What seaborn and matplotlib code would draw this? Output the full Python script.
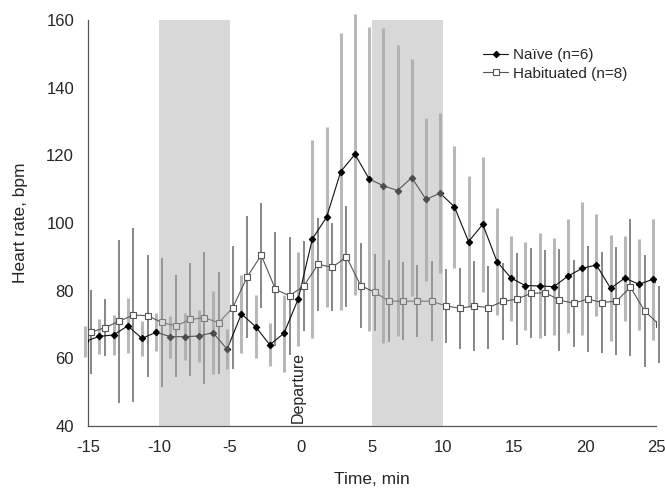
import matplotlib
matplotlib.use("Agg")
import matplotlib.pyplot as plt
import seaborn as sns
import pandas as pd

# heart rate, bpm (mean and error) per minute around departure
naive_time = [-15.2, -14.2, -13.2, -12.2, -11.2, -10.2, -9.2, -8.2, -7.2, -6.2,
              -5.2, -4.2, -3.2, -2.2, -1.2, -0.2, 0.8, 1.8, 2.8, 3.8,
              4.8, 5.8, 6.8, 7.8, 8.8, 9.8, 10.8, 11.8, 12.8, 13.8,
              14.8, 15.8, 16.8, 17.8, 18.8, 19.8, 20.8, 21.8, 22.8, 23.8,
              24.8, 25.8]
naive_hr = [65.0, 66.5, 66.9, 69.6, 65.9, 67.7, 66.4, 66.4, 66.6, 67.6,
            62.7, 73.1, 69.4, 64.0, 67.4, 77.5, 95.3, 101.7, 115.2, 120.3,
            113.0, 111.0, 109.6, 113.4, 107.0, 108.8, 104.8, 94.5, 99.6, 88.6,
            83.7, 81.5, 81.4, 81.2, 84.3, 86.6, 87.6, 80.7, 83.7, 81.9,
            83.4, 78.0]
naive_err = [4.5, 5.2, 6.0, 8.1, 5.2, 5.6, 6.2, 6.9, 7.6, 12.2,
             5.9, 11.6, 9.3, 6.4, 11.3, 14.0, 29.3, 26.6, 41.0, 41.5,
             44.8, 46.6, 43.1, 35.1, 24.1, 23.6, 18.1, 19.4, 20.0, 15.7,
             12.6, 13.0, 15.5, 14.4, 16.9, 19.7, 15.0, 15.7, 12.6, 13.4,
             17.9, 15.0]

hab_time = [-14.8, -13.8, -12.8, -11.8, -10.8, -9.8, -8.8, -7.8, -6.8, -5.8,
            -4.8, -3.8, -2.8, -1.8, -0.8, 0.2, 1.2, 2.2, 3.2, 4.2,
            5.2, 6.2, 7.2, 8.2, 9.2, 10.2, 11.2, 12.2, 13.2, 14.2,
            15.2, 16.2, 17.2, 18.2, 19.2, 20.2, 21.2, 22.2, 23.2, 24.2,
            25.2]
hab_hr = [67.7, 69.1, 71.0, 72.8, 72.6, 70.6, 69.6, 71.5, 72.0, 70.5,
          75.0, 84.0, 90.5, 80.4, 78.5, 81.4, 87.8, 86.9, 90.0, 81.5,
          79.5, 76.9, 76.9, 76.9, 76.9, 75.5, 74.8, 75.5, 75.0, 76.8,
          77.5, 79.2, 79.4, 77.2, 76.3, 77.5, 76.5, 76.9, 81.0, 74.0,
          70.0]
hab_err = [12.4, 8.5, 24.1, 25.6, 18.0, 19.1, 15.1, 16.7, 19.5, 15.1,
           18.1, 18.0, 15.5, 16.9, 17.5, 13.3, 13.8, 13.0, 14.9, 12.6,
           11.3, 12.1, 11.6, 10.6, 11.8, 11.0, 12.0, 13.3, 12.3, 11.4,
           13.5, 13.3, 12.7, 15.0, 12.9, 15.6, 15.0, 16.0, 20.2, 16.6,
           11.5]

shade_periods = [(-10, -5), (5, 10)]
x_ticks = [-15, -10, -5, 0, 5, 10, 15, 20, 25]
y_ticks = [40, 60, 80, 100, 120, 140, 160]

naive = pd.DataFrame({"time": naive_time, "hr": naive_hr, "err": naive_err})
hab = pd.DataFrame({"time": hab_time, "hr": hab_hr, "err": hab_err})

sns.set_style("white")
plt.rcParams["font.family"] = ["Liberation Sans", "DejaVu Sans"]
plt.rcParams["axes.unicode_minus"] = False

fig = plt.figure(figsize=(6.65, 4.95), dpi=100)
ax = fig.add_axes([0.1323, 0.1394, 0.8542, 0.8202])

# error bars
ax.errorbar(naive["time"], naive["hr"], yerr=naive["err"], fmt="none",
            ecolor="#b8b8b8", elinewidth=2.2, capsize=0, zorder=2, clip_on=False)
ax.errorbar(hab["time"], hab["hr"], yerr=hab["err"], fmt="none",
            ecolor="#666666", elinewidth=1.1, capsize=0, zorder=2, clip_on=False)

sns.lineplot(data=naive, x="time", y="hr", ax=ax, color="#111111", lw=0.8,
             marker="D", markersize=3.3, markeredgecolor="black",
             markerfacecolor="black", label="Naïve (n=6)", zorder=4)
sns.lineplot(data=hab, x="time", y="hr", ax=ax, color="#555555", lw=0.8,
             marker="s", markersize=4.3, markeredgecolor="#555555",
             markerfacecolor="white", markeredgewidth=0.8,
             label="Habituated (n=8)", zorder=4)

# shaded periods lie on top of the data, semi-transparent
for start, end in shade_periods:
    ax.axvspan(start, end, color="#aaaaaa", alpha=0.45, lw=0, zorder=5)

ax.text(-0.2, 41, "Departure", rotation=90, ha="center", va="bottom",
        fontsize=11.5, zorder=6)

ax.set_xlim(-15, 25)
ax.set_ylim(40, 160)
ax.set_xticks(x_ticks)
ax.set_yticks(y_ticks)
ax.set_xlabel("Time, min", fontsize=12.5, labelpad=12)
ax.set_ylabel("Heart rate, bpm", fontsize=12.5, labelpad=13)
ax.tick_params(axis="both", direction="out", length=5, width=0.8,
               color="#555555", labelsize=12, pad=5)
sns.despine(ax=ax)
for side in ["left", "bottom"]:
    ax.spines[side].set_color("#555555")
    ax.spines[side].set_linewidth(0.9)

ax.legend(loc="upper left", bbox_to_anchor=(0.672, 0.965), frameon=False,
          fontsize=11, handlelength=1.6, handletextpad=0.35, labelspacing=0.3)

fig.savefig("out.png", dpi=100)
